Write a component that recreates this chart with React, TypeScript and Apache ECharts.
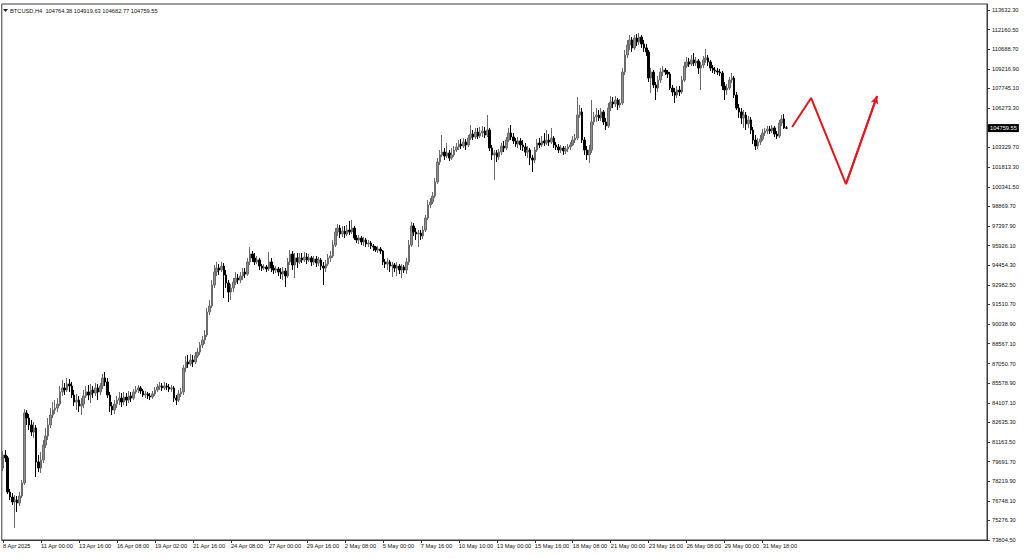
import React, { useEffect, useRef } from "react";
import * as echarts from "echarts";

const FONT = '"Liberation Sans", Arial, sans-serif';

const symbolName = "BTCUSD,H4";
const firstOpen = 79210;

const closes = [
  80190, 79970, 77410, 77030, 76660, 76810, 76580, 77110, 78090, 83350, 82970, 82450, 81920, 82220, 79670, 79210,
  79820, 80940, 81620, 82450, 83200, 83570, 83720, 84020, 84930, 85230, 85080, 85530, 85380, 84700, 84170, 84320,
  83870, 84020, 84630, 84930, 84700, 85080, 84850, 85230, 84930, 85380, 85980, 85680, 84700, 83870, 83570, 84020,
  84320, 84470, 84170, 84550, 84320, 84630, 84470, 84930, 85080, 85230, 85000, 84700, 84780, 84630, 84550, 84780,
  85080, 85300, 85380, 85230, 85380, 85300, 85150, 85230, 84470, 84320, 84780, 84930, 86730, 87180, 87030, 87330,
  87180, 87630, 87930, 88460, 88830, 89210, 90940, 91390, 92970, 93940, 94240, 94090, 94390, 93720, 93120, 92440,
  92740, 93190, 93490, 93340, 93640, 93940, 93790, 94700, 95300, 95000, 94700, 94850, 94390, 94240, 94320, 94170,
  94700, 94240, 94090, 94170, 93940, 93790, 94020, 93640, 94700, 95300, 94470, 95000, 94700, 95000, 94850, 95070,
  94850, 95000, 94700, 94920, 94620, 94850, 94390, 94240, 94540, 95000, 95150, 95970, 96950, 97250, 96800, 97020,
  96800, 97100, 96950, 97250, 96500, 96350, 96500, 96200, 96350, 96050, 96120, 95900, 95820, 95600, 95670, 95520,
  94700, 94540, 94700, 94390, 94470, 94240, 94390, 94090, 94320, 94090, 94700, 95970, 97400, 96950, 96800, 96870,
  96650, 97100, 98000, 98980, 99200, 99650, 100710, 102210, 102740, 102960, 102660, 102890, 102510, 102740, 103110, 103340,
  103560, 103410, 103710, 103490, 104010, 104310, 104090, 104460, 104160, 104390, 104540, 104240, 104610, 103260, 102740, 102890,
  102590, 102960, 103410, 103260, 103860, 104390, 104090, 103790, 103560, 103790, 103490, 103340, 102960, 103110, 102510, 102360,
  103110, 103640, 103490, 103790, 103640, 103860, 103710, 104010, 103490, 103340, 103110, 103260, 103040, 103190, 103340, 103490,
  103860, 104010, 105740, 105970, 103860, 103110, 102740, 103110, 105220, 105590, 105740, 105520, 105970, 105220, 104920, 106270,
  106720, 106570, 106870, 106490, 106640, 108970, 110250, 111000, 111380, 110780, 111530, 111230, 111600, 111080, 110780, 110480,
  108520, 108970, 108000, 107770, 108370, 108970, 109120, 108970, 108820, 107770, 107470, 107240, 107620, 107470, 108370, 109420,
  109730, 109570, 109880, 109650, 109800, 109270, 109500, 109880, 110030, 109730, 109270, 109120, 109050, 108970, 108900, 107920,
  107620, 107770, 108370, 108520, 107240, 106270, 105970, 105520, 105740, 105070, 105370, 104610, 103860, 103410, 103710, 103940,
  104390, 104540, 104690, 104540, 104770, 104310, 104160, 105140, 105440, 104764.38, 104759.55,
];

const highs = [
  80490, 80570, 80120, 77640, 77340, 77190, 77110, 77410, 78310, 83650, 83570, 83270, 82820, 82670, 82450, 80190,
  80420, 81320, 82220, 82970, 83720, 84170, 84320, 84470, 85380, 85830, 85600, 85980, 85900, 85680, 85080, 84780,
  84630, 84470, 85080, 85380, 85450, 85530, 85380, 85600, 85530, 85600, 86280, 86430, 85980, 84930, 84170, 84320,
  84630, 84930, 84850, 84930, 84850, 85000, 84930, 85150, 85380, 85450, 85380, 85150, 85000, 84930, 84850, 85000,
  85300, 85530, 85680, 85600, 85680, 85600, 85530, 85450, 85380, 84700, 85080, 85230, 86950, 87630, 87710, 87780,
  87710, 87930, 88230, 88680, 89130, 89580, 91240, 91840, 93340, 94470, 94700, 94540, 94700, 94620, 94090, 93340,
  93040, 93490, 93940, 93790, 93940, 94240, 94240, 95000, 95820, 95520, 95370, 95150, 95000, 94540, 94540, 94470,
  95450, 95000, 94470, 94390, 94320, 94240, 94320, 94240, 95000, 95600, 95520, 95370, 95370, 95370, 95370, 95450,
  95370, 95300, 95150, 95150, 95150, 95070, 95000, 94700, 94850, 95300, 95520, 96350, 97250, 97550, 97480, 97400,
  97400, 97480, 97780, 97850, 97400, 96720, 96720, 96650, 96570, 96500, 96350, 96270, 96050, 95900, 95900, 95820,
  95600, 94920, 95000, 94850, 94700, 94620, 94700, 94540, 94540, 94470, 95000, 96350, 97700, 97630, 97250, 97100,
  97100, 97400, 98230, 99350, 99500, 99960, 101010, 102510, 103110, 104240, 103260, 103640, 103110, 103260, 103410, 103640,
  103860, 103940, 104010, 103940, 104240, 104990, 104610, 104770, 104770, 104840, 104920, 104840, 105740, 104770, 103490, 103110,
  103110, 103190, 103640, 103790, 104090, 104770, 104990, 104390, 104010, 104090, 104010, 103860, 103640, 103410, 103260, 102740,
  103340, 103940, 104010, 104160, 104390, 104610, 104310, 104770, 104160, 103710, 103560, 103490, 103410, 103410, 103560, 103710,
  104160, 104310, 107090, 106490, 106270, 104090, 103410, 103490, 106870, 105970, 106270, 106120, 106270, 106120, 105520, 106640,
  107170, 107090, 107170, 107020, 106940, 109270, 110630, 111380, 111750, 111600, 111750, 111830, 111900, 111750, 111380, 111080,
  110630, 109270, 109120, 108220, 108670, 109270, 109420, 109270, 109120, 108970, 108000, 107770, 107920, 107920, 108670, 109730,
  110100, 110030, 110250, 110400, 110100, 109950, 109730, 110180, 110700, 110250, 109880, 109500, 109350, 109270, 109200, 109050,
  108220, 108070, 108600, 108900, 108670, 107470, 106570, 106270, 106120, 105970, 105670, 105590, 104840, 104240, 104010, 104240,
  104690, 104770, 104920, 104920, 104990, 104920, 104540, 105370, 105740, 105820, 104919.63,
];

const lows = [
  78990, 79670, 77260, 76810, 76430, 74710, 75910, 76360, 76960, 77940, 82450, 82070, 81620, 81470, 78540, 78910,
  78840, 79590, 80720, 81320, 82220, 82970, 83270, 83420, 83870, 84630, 84700, 84930, 84930, 84470, 83870, 83570,
  83420, 83200, 83720, 84470, 84320, 84100, 84470, 84630, 84320, 84700, 85150, 85380, 84470, 83420, 83200, 83270,
  83720, 83950, 83800, 83950, 83870, 84100, 84170, 84320, 84780, 84850, 84780, 84550, 84470, 84400, 84320, 84400,
  84630, 84930, 85080, 85000, 85080, 85080, 84930, 84930, 84170, 83950, 84170, 84550, 84700, 86430, 86730, 86880,
  86800, 87030, 87480, 87710, 88230, 88530, 89060, 90710, 91240, 92740, 93640, 93720, 93940, 91990, 92740, 91690,
  91840, 92440, 92970, 93040, 93120, 93340, 93490, 93640, 94470, 94700, 94470, 94540, 94090, 94020, 94090, 93940,
  94020, 93940, 93790, 93870, 93640, 93420, 93340, 92820, 93490, 94470, 94090, 93490, 94240, 94540, 94620, 94700,
  94540, 94700, 94390, 94470, 94320, 94390, 94090, 92970, 93940, 94390, 94700, 95000, 95820, 96650, 96500, 96570,
  96500, 96650, 96720, 96800, 96350, 96120, 96050, 95970, 95900, 95820, 95820, 95670, 95520, 95450, 95370, 95300,
  94470, 94240, 94090, 93940, 93570, 93940, 93640, 93790, 93490, 93870, 93790, 94470, 95820, 96650, 96350, 95820,
  96350, 96420, 96950, 97850, 98750, 99050, 99500, 100560, 101980, 102590, 102360, 102510, 102290, 102360, 102590, 102960,
  103110, 103190, 103260, 103110, 103340, 103860, 103860, 103940, 103940, 104010, 104090, 104010, 104090, 103040, 102360, 100860,
  102210, 102360, 102740, 102960, 103110, 103710, 103860, 103560, 103340, 103260, 103110, 103040, 102660, 102510, 101980, 101460,
  102140, 102960, 103260, 103340, 103410, 103490, 103410, 103560, 103260, 103110, 102890, 102890, 102740, 102810, 102960, 103110,
  103410, 103640, 103860, 105520, 103640, 102740, 102360, 102140, 102890, 104990, 105220, 105290, 105290, 104990, 104610, 104770,
  106040, 106270, 106340, 106120, 106270, 106490, 108750, 110030, 110630, 110480, 110630, 110930, 111000, 110780, 110480, 110180,
  108220, 107400, 107770, 106870, 107470, 108150, 108670, 108750, 108520, 107620, 107170, 106640, 107020, 107170, 107320, 108220,
  109270, 109350, 109420, 109420, 109420, 108820, 107620, 109270, 109650, 109420, 109050, 108900, 108820, 108750, 108670, 107620,
  106870, 107240, 107620, 108150, 107020, 106120, 105520, 105070, 104770, 104610, 104770, 104310, 103560, 103110, 103190, 103490,
  103790, 104160, 104310, 104310, 104390, 104090, 103940, 104010, 104920, 104700, 104682.77,
];

const xTickLabels = [
  "8 Apr 2025", "11 Apr 00:00", "13 Apr 16:00", "16 Apr 08:00", "19 Apr 02:00", "21 Apr 16:00", "24 Apr 08:00",
  "27 Apr 00:00", "29 Apr 16:00", "2 May 08:00", "5 May 00:00", "7 May 16:00", "10 May 10:00", "13 May 00:00",
  "15 May 16:00", "18 May 08:00", "21 May 00:00", "23 May 16:00", "26 May 08:00", "29 May 00:00", "31 May 18:00",
];

const yTickValues = [
  113632.3, 112160.5, 110688.7, 109216.9, 107745.1, 106273.3, 103329.7, 101813.3, 100341.5, 98869.7, 97397.9,
  95926.1, 94454.3, 92982.5, 91510.7, 90038.9, 88567.1, 87050.7, 85578.9, 84107.1, 82635.3, 81163.5, 79691.7,
  78219.9, 76748.1, 75276.3, 73804.5,
];

const priceMin = 73804.5;
const priceMax = 114083.2;
const barsPerLabel = 16;
const totalSlots = 415;

// projected path (red arrow): bar position and price
const arrowBars = [332.4, 340.4, 355.1, 368.2];
const arrowPrices = [104840, 107020, 100556, 107170];

const AXIS_COLOR = "#3a3a3a";
const TEXT_COLOR = "#111";
const FS = 5.7;

export default function App() {
  const ref = useRef<HTMLDivElement>(null);

  useEffect(() => {
    if (!ref.current) return;
    const chart = echarts.init(ref.current, undefined, { renderer: "svg" });

    const opens = closes.map((c, i) => (i === 0 ? firstOpen : closes[i - 1]));
    const candles = closes.map((c, i) => [opens[i], c, lows[i], highs[i]]);
    const categories = Array.from({ length: totalSlots }, (_, i) => String(i));
    const showTick = (i: number) => i % barsPerLabel === 0 && i / barsPerLabel < xTickLabels.length;
    const last = closes.length - 1;
    const header = `${symbolName}  ${opens[last].toFixed(2)} ${highs[last].toFixed(2)} ${lows[last].toFixed(2)} ${closes[last].toFixed(2)}`;
    const arrowData = arrowBars.map((b, i) => [b, arrowPrices[i]]);
    const n = arrowData.length;

    chart.setOption({
      animation: false,
      backgroundColor: "#ffffff",
      textStyle: { fontFamily: FONT },
      grid: {
        left: 1,
        top: 4,
        width: 986,
        height: 536,
        show: true,
        borderColor: AXIS_COLOR,
        borderWidth: 1,
        backgroundColor: "#ffffff",
      },
      graphic: [
        {
          type: "polygon",
          shape: { points: [[3, 9], [8, 9], [5.5, 12]] },
          style: { fill: "#222" },
        },
        {
          type: "text",
          left: 10,
          top: 8,
          style: { text: header, fontSize: FS, fontFamily: FONT, fill: TEXT_COLOR },
        },
      ],
      xAxis: [
        {
          type: "category",
          data: categories,
          boundaryGap: true,
          axisLine: { show: true, lineStyle: { color: AXIS_COLOR, width: 1 } },
          axisTick: {
            show: true,
            alignWithLabel: true,
            interval: (i: number) => showTick(i),
            length: 3,
            lineStyle: { color: AXIS_COLOR },
          },
          axisLabel: {
            show: true,
            interval: (i: number) => showTick(i),
            formatter: (_v: string, i: number) => xTickLabels[i / barsPerLabel] ?? "",
            align: "left",
            fontSize: FS,
            fontFamily: FONT,
            color: TEXT_COLOR,
            margin: 3,
          },
          splitLine: { show: false },
        },
        { type: "value", min: -0.5, max: totalSlots - 0.5, show: false },
      ],
      yAxis: {
        type: "value",
        position: "right",
        min: priceMin,
        max: priceMax,
        scale: true,
        splitLine: { show: false },
        axisLine: { show: true, onZero: false, lineStyle: { color: AXIS_COLOR } },
        axisTick: { show: true, length: 3, customValues: yTickValues, lineStyle: { color: AXIS_COLOR } },
        axisLabel: {
          customValues: yTickValues,
          formatter: (v: number) => v.toFixed(2),
          fontSize: FS,
          fontFamily: FONT,
          color: TEXT_COLOR,
          margin: 5,
        },
      },
      series: [
        {
          type: "candlestick",
          xAxisIndex: 0,
          yAxisIndex: 0,
          data: candles,
          barWidth: 2,
          large: false,
          itemStyle: {
            color: "#8e8e8e",
            color0: "#000000",
            borderColor: "#6a6a6a",
            borderColor0: "#000000",
            borderWidth: 1,
          },
          markLine: {
            silent: true,
            symbol: ["none", "none"],
            lineStyle: { color: "rgba(0,0,0,0)", width: 0 },
            label: {
              show: true,
              position: "end",
              distance: 1,
              formatter: () => closes[last].toFixed(2),
              color: "#ffffff",
              backgroundColor: "#000000",
              padding: [1, 2, 1, 2],
              fontSize: FS,
              fontFamily: FONT,
            },
            data: [{ yAxis: closes[last] }],
          },
        },
        {
          type: "line",
          xAxisIndex: 1,
          yAxisIndex: 0,
          data: arrowData,
          showSymbol: false,
          symbol: "none",
          z: 5,
          lineStyle: { color: "#e8131b", width: 2 },
          markLine: {
            silent: true,
            symbol: ["none", "arrow"],
            symbolSize: [6, 8],
            lineStyle: { color: "#e8131b", width: 2, type: "solid" },
            label: { show: false },
            data: [[{ coord: arrowData[n - 2] }, { coord: arrowData[n - 1] }]],
          },
        },
      ],
    });

    return () => chart.dispose();
  }, []);

  return (
    <div
      ref={ref}
      style={{ position: "fixed", left: 0, top: 0, width: 1024, height: 559, background: "#fff" }}
    />
  );
}
